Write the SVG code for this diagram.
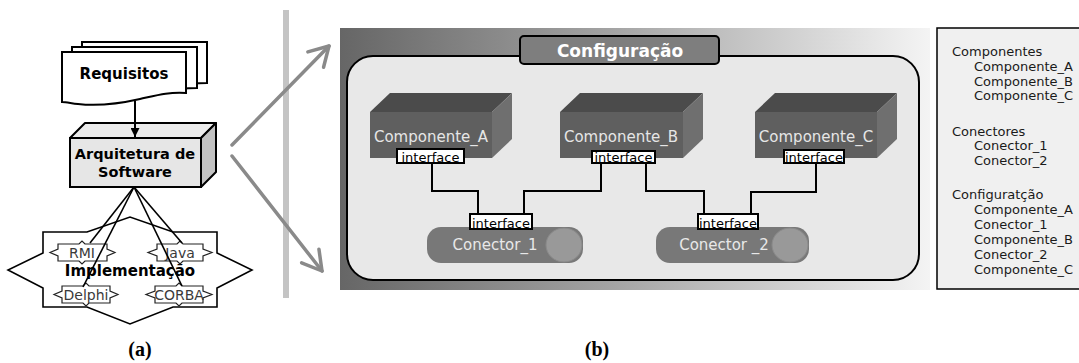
<svg xmlns="http://www.w3.org/2000/svg" width="1079" height="363" viewBox="0 0 1079 363">
  <defs>
    <style>
      .sans { font-family: "DejaVu Sans", Verdana, sans-serif; }
      .bold { font-family: "DejaVu Sans", Verdana, sans-serif; font-weight: bold; }
      .cap { font-family: "Liberation Serif", "Times New Roman", serif; font-weight: bold; font-size: 20px; }
      .doc { fill: #ffffff; stroke: #000; stroke-width: 2; }
      .wire { fill: none; stroke: #000; stroke-width: 2; }
      .thin { fill: none; stroke: #000; stroke-width: 1.6; }
      .big { fill: none; stroke: #8a8a8a; stroke-width: 3.5; stroke-linecap: round; }
      .tag { fill: #ffffff; stroke: #222; stroke-width: 1.2; }
      .tagtxt { font-family: "DejaVu Sans", Verdana, sans-serif; font-size: 14px; fill: #3a3a3a; text-anchor: middle; }
      .iface { fill: #ffffff; stroke: #000; stroke-width: 2; }
      .ifacetxt { font-family: "DejaVu Sans", Verdana, sans-serif; font-size: 13px; fill: #000; text-anchor: middle; }
      .ctop { fill: #4b4b4b; }
      .cfront { fill: #5f5f5f; }
      .cside { fill: #6f6f6f; }
      .clabel { font-family: "DejaVu Sans", Verdana, sans-serif; font-size: 15px; fill: #e6e6e6; text-anchor: middle; }
      .pipe { fill: #787878; }
      .pipecap { fill: #999999; stroke: #8a8a8a; stroke-width: 1; }
      .plabel { font-family: "DejaVu Sans", Verdana, sans-serif; font-size: 15px; fill: #e8e8e8; text-anchor: middle; }
      .list { font-family: "DejaVu Sans", Verdana, sans-serif; font-size: 13px; fill: #1a1a1a; }
    </style>
    <linearGradient id="panelGrad" x1="0" y1="0" x2="1" y2="0">
      <stop offset="0" stop-color="#666666"/>
      <stop offset="0.45" stop-color="#a2a2a2"/>
      <stop offset="1" stop-color="#f4f4f4"/>
    </linearGradient>
    <marker id="headBlack" viewBox="0 0 10 10" refX="10" refY="5" markerWidth="9" markerHeight="9" markerUnits="userSpaceOnUse" orient="auto">
      <path d="M0,0 L10,5 L0,10 Z" fill="#000"/>
    </marker>
    <marker id="headOpen" viewBox="-22 -13 26 26" refX="0" refY="0" markerWidth="26" markerHeight="26" markerUnits="userSpaceOnUse" orient="auto">
      <path d="M-19,-11 L0,0 L-19,11" fill="none" stroke="#8a8a8a" stroke-width="3.5" stroke-linecap="round" stroke-linejoin="round"/>
    </marker>
  </defs>

  <rect width="1079" height="363" fill="#ffffff"/>

  <!-- (a) left panel -->
  <g id="requisitos">
    <path class="doc" d="M82,42 H207 V83 C185,83 175,86 160,88 C140,91 120,89 82,92 Z"/>
    <path class="doc" d="M72,47 H197 V88 C175,88 165,91 150,93 C130,96 110,94 72,97 Z"/>
    <path class="doc" d="M62,52 H186 V93 C168,92 158,95 140,99 C118,104 95,106 78,104 C70,103 66,102 62,102 Z"/>
    <text class="bold" x="124" y="79" font-size="15" text-anchor="middle">Requisitos</text>
  </g>

  <g id="arquitetura">
    <path d="M70,138 L85,123 L216,123 L201,138 Z" fill="#ececec" stroke="#000" stroke-width="2" stroke-linejoin="round"/>
    <path d="M201,138 L216,123 L216,172 L201,187 Z" fill="#c2c2c2" stroke="#000" stroke-width="2" stroke-linejoin="round"/>
    <rect x="70" y="138" width="131" height="49" fill="#e6e6e6" stroke="#000" stroke-width="2"/>
    <text class="bold" x="135" y="159" font-size="14.5" text-anchor="middle">Arquitetura de</text>
    <text class="bold" x="135" y="177" font-size="14.5" text-anchor="middle">Software</text>
  </g>

  <g id="implementacao">
    <path d="M43,232 L87,232 L130,217 L173,232 L217,232 L217,253 L252,270 L217,288 L217,307 L173,307 L130,324 L87,307 L43,307 L43,288 L8,270 L43,253 Z" fill="#ffffff" stroke="#000" stroke-width="1.6" stroke-linejoin="miter"/>
    <text class="bold" x="130" y="276" font-size="15" text-anchor="middle">Implementação</text>
  </g>

  <g id="rmi">
    <path class="tag" d="M58,244 H79 L82,241 L85,244 H107 V249 L115,252.5 L107,256 V261 H85 L82,264 L79,261 H58 V256 L50,252.5 L58,249 Z"/>
    <text class="tagtxt" x="82" y="258">RMI</text>
  </g>
  <g id="java">
    <path class="tag" d="M157,244 H177 L180,241 L183,244 H203 V249 L212,252.5 L203,256 V261 H183 L180,264 L177,261 H157 V256 L148,252.5 L157,249 Z"/>
    <text class="tagtxt" x="180" y="258">Java</text>
  </g>
  <g id="delphi">
    <path class="tag" d="M62,286 H83 L86,283 L89,286 H110 V291 L118,294.5 L110,298 V303 H89 L86,306 L83,303 H62 V298 L54,294.5 L62,291 Z"/>
    <text class="tagtxt" x="86" y="300">Delphi</text>
  </g>
  <g id="corba">
    <path class="tag" d="M155,286 H176 L179,283 L182,286 H203 V291 L212,294.5 L203,298 V303 H182 L179,306 L176,303 H155 V298 L146,294.5 L155,291 Z"/>
    <text class="tagtxt" x="179" y="300">CORBA</text>
  </g>

  <text class="cap" x="140" y="356" text-anchor="middle">(a)</text>

  <!-- separator -->
  <rect id="separator" x="283" y="10" width="6" height="288" fill="#c4c4c4"/>

  <!-- (b) configuration panel -->
  <g id="painel">
    <rect x="340" y="28" width="590" height="262" fill="url(#panelGrad)"/>
    <rect x="347" y="56" width="572" height="224" rx="26" ry="26" fill="#e8e8e8" stroke="#000" stroke-width="2"/>
  </g>

  <g id="configuracao">
    <rect x="520" y="36" width="199" height="28" rx="4" ry="4" fill="#7e7e7e" stroke="#000" stroke-width="2"/>
    <text class="bold" x="620" y="57" font-size="17" fill="#ffffff" text-anchor="middle">Configuração</text>
  </g>

  <g id="componente_a">
    <path class="ctop" d="M370,112 L390,93 L512,93 L492,112 Z"/>
    <path class="cside" d="M492,112 L512,93 L512,139 L492,158 Z"/>
    <rect class="cfront" x="370" y="112" width="122" height="46"/>
    <text class="clabel" x="431" y="142">Componente_A</text>
  </g>
  <g id="componente_b">
    <path class="ctop" d="M560,112 L580,93 L703,93 L683,112 Z"/>
    <path class="cside" d="M683,112 L703,93 L703,139 L683,158 Z"/>
    <rect class="cfront" x="560" y="112" width="123" height="46"/>
    <text class="clabel" x="621" y="142">Componente_B</text>
  </g>
  <g id="componente_c">
    <path class="ctop" d="M755,112 L775,93 L897,93 L877,112 Z"/>
    <path class="cside" d="M877,112 L897,93 L897,139 L877,158 Z"/>
    <rect class="cfront" x="755" y="112" width="122" height="46"/>
    <text class="clabel" x="816" y="142">Componente_C</text>
  </g>

  <g id="conector_1">
    <rect class="pipe" x="427" y="227" width="156" height="36" rx="14" ry="14"/>
    <ellipse class="pipecap" cx="564" cy="245" rx="18" ry="17"/>
    <text class="plabel" x="495" y="250">Conector_1</text>
  </g>
  <g id="conector_2">
    <rect class="pipe" x="656" y="227" width="153" height="36" rx="14" ry="14"/>
    <ellipse class="pipecap" cx="790" cy="245" rx="18" ry="17"/>
    <text class="plabel" x="724" y="250">Conector _2</text>
  </g>

  <!-- connectors -->
  <g id="conectores">
    <line x1="135" y1="101" x2="135" y2="137" stroke="#000" stroke-width="2" marker-end="url(#headBlack)"/>
    <line class="thin" x1="134" y1="187" x2="90" y2="243"/>
    <line class="thin" x1="134" y1="187" x2="83" y2="287"/>
    <line class="thin" x1="134" y1="187" x2="182" y2="243"/>
    <line class="thin" x1="134" y1="187" x2="182" y2="286"/>
    <line class="big" x1="232" y1="145" x2="329" y2="46" marker-end="url(#headOpen)"/>
    <line class="big" x1="232" y1="156" x2="322" y2="271" marker-end="url(#headOpen)"/>
    <path class="wire" d="M432,163 V191 H478 V214"/>
    <path class="wire" d="M601,163 V191 H524 V214"/>
    <path class="wire" d="M646,163 V191 H704 V214"/>
    <path class="wire" d="M816,163 V192 H751 V214"/>
  </g>

  <!-- interface ports -->
  <g id="interfaces">
    <rect class="iface" x="397" y="149" width="67" height="14"/>
    <text class="ifacetxt" x="430.5" y="162">interface</text>
    <rect class="iface" x="592" y="151" width="63" height="12"/>
    <text class="ifacetxt" x="623.5" y="162">interface</text>
    <rect class="iface" x="784" y="150" width="60" height="13"/>
    <text class="ifacetxt" x="814" y="162">interface</text>
    <rect class="iface" x="470" y="214" width="62" height="15"/>
    <text class="ifacetxt" x="501" y="228">interface</text>
    <rect class="iface" x="698" y="214" width="60" height="15"/>
    <text class="ifacetxt" x="728" y="228">interface</text>
  </g>

  <g id="lista">
    <rect x="937" y="28" width="150" height="261" fill="#f0f0f0" stroke="#000" stroke-width="1.5"/>
    <text class="list" x="952" y="56">Componentes</text>
    <text class="list" x="974" y="71">Componente_A</text>
    <text class="list" x="974" y="86">Componente_B</text>
    <text class="list" x="974" y="100">Componente_C</text>
    <text class="list" x="952" y="136">Conectores</text>
    <text class="list" x="974" y="150">Conector_1</text>
    <text class="list" x="974" y="165">Conector_2</text>
    <text class="list" x="952" y="199">Configuratção</text>
    <text class="list" x="974" y="214">Componente_A</text>
    <text class="list" x="974" y="229">Conector_1</text>
    <text class="list" x="974" y="244">Componente_B</text>
    <text class="list" x="974" y="259">Conector_2</text>
    <text class="list" x="974" y="274">Componente_C</text>
  </g>

  <text class="cap" x="597" y="356" text-anchor="middle">(b)</text>
</svg>
